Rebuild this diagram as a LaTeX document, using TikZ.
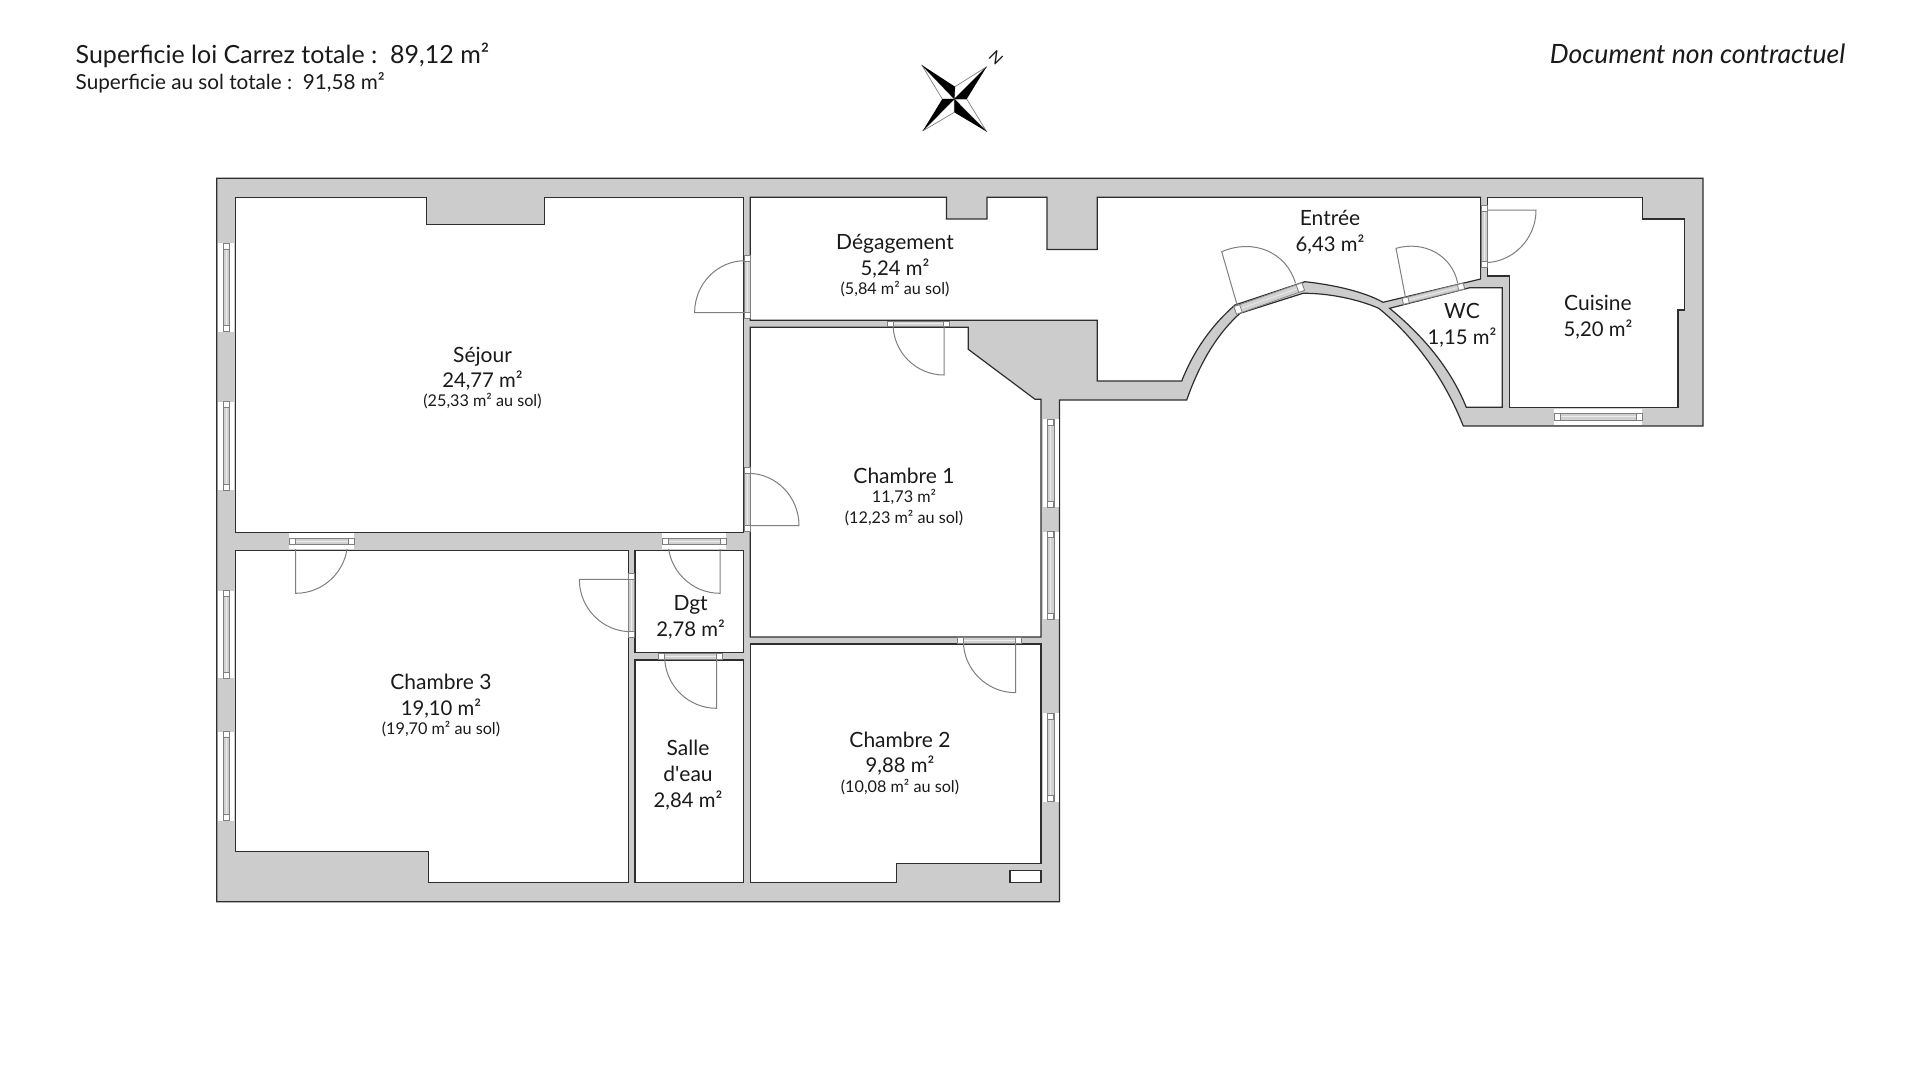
\documentclass[tikz,border=0pt]{standalone}
\usepackage{fontspec}
\setmainfont{Lato}
\usetikzlibrary{calc}
\definecolor{wallgray}{HTML}{CCCCCC}
\definecolor{wallline}{HTML}{2E2E2E}
\definecolor{doorgray}{HTML}{7F7F7F}
\definecolor{inkblack}{HTML}{1A1A1A}
\tikzset{
  wall/.style={fill=wallgray,draw=wallline,line width=1.2pt,line join=miter},
  roomarea/.style={fill=white,draw=wallline,line width=1.2pt,line join=miter},
  doorline/.style={draw=doorgray,line width=1pt},
  winbar/.style={fill=wallgray!90,draw=doorgray,line width=.7pt},
  winsq/.style={fill=white,draw=doorgray,line width=.8pt},
  roomlabel/.style={align=center,inner sep=0pt,text=inkblack,font=\fontsize{21}{25.7}\selectfont},
  headtext/.style={inner sep=0pt,text=inkblack},
  star/.style={fill=black},
  starw/.style={fill=white,draw=doorgray,line width=.7pt,line join=round}
}
\newcommand\doorleaf[6]{%
  \pgfmathsetmacro\cax{#3+0.5523*(#5-#1)}%
  \pgfmathsetmacro\cay{#4+0.5523*(#6-#2)}%
  \pgfmathsetmacro\cbx{#5+0.5523*(#3-#1)}%
  \pgfmathsetmacro\cby{#6+0.5523*(#4-#2)}%
  \draw[doorline] (#1,#2)--(#3,#4) .. controls (\cax,\cay) and (\cbx,\cby) .. (#5,#6);}
% centre x, centre y, length, angle, white gap width, bar width
\newcommand\winb[6]{%
  \begin{scope}[shift={(#1,#2)},rotate=#4]
    \pgfmathsetmacro\hl{#3/2}\pgfmathsetmacro\hg{#5/2}\pgfmathsetmacro\hb{#6/2}%
    \fill[white] (-\hl,-\hg) rectangle (\hl,\hg);
    \draw[winbar] (-\hl,-\hb) rectangle (\hl,\hb);
    \draw[wallgray!35,line width=.7pt] (-\hl,0) -- (\hl,0);
    \draw[winsq] (-\hl,-\hb) rectangle ++(6,{2*\hb});
    \draw[winsq] (\hl,-\hb) rectangle ++(-6,{2*\hb});
  \end{scope}}
\newcommand\smalltxt{\fontsize{16.2}{16.2}\selectfont}
\newcommand\areatxt{\fontsize{20.3}{25.7}\selectfont}
\begin{document}
\begin{tikzpicture}[x=1pt,y=-1pt]
\useasboundingbox (0,0) rectangle (1920,1080);
\fill[white] (0,0) rectangle (1920,1080);
% outer walls
\path[wall] (216.7,178.3) -- (1703,178.3) -- (1703,426) -- (1463.3,426)
  .. controls (1443,375) and (1412,335) .. (1378.7,308.3)
  .. controls (1360,300) and (1330,293) .. (1303,293.3)
  -- (1240,313.3)
  .. controls (1218,333) and (1200,362) .. (1186.7,400)
  -- (1059.5,400) -- (1059.5,901.7) -- (216.7,901.7) -- cycle;
% rooms
\path[roomarea] (235.7,197.3) -- (426.8,197.3) -- (426.8,224.7) -- (544.6,224.7) -- (544.6,197.3) -- (743.6,197.3) -- (743.6,532.3) -- (235.7,532.3) -- cycle;
\path[roomarea] (235.7,550.3) -- (628.3,550.3) -- (628.3,882.3) -- (428.7,882.3) -- (428.7,851.7) -- (235.7,851.7) -- cycle;
\path[roomarea] (635,550.3) rectangle (743.7,652.7);
\path[roomarea] (635,660) rectangle (743.7,882.3);
\path[roomarea] (750.3,327.3) -- (968.3,327.3) -- (968.3,349.3) -- (1035,399.3) -- (1041,399.3) -- (1041,637) -- (750.3,637) -- cycle;
\path[roomarea] (750.3,644) -- (1041,644) -- (1041,863.3) -- (896.7,863.3) -- (896.7,882.3) -- (750.3,882.3) -- cycle;
\path[roomarea] (1010,870.7) rectangle (1041,882.3);
\path[roomarea] (750.3,197.3) -- (946.5,197.3) -- (946.5,219) -- (987,219) -- (987,197.3) -- (1047,197.3) -- (1047,249.5) -- (1097.3,249.5) -- (1097.3,197.3) -- (1480.6,197.3) -- (1480.6,279) -- (1383,302.3)
  .. controls (1365,292) and (1335,285) .. (1305,281.7)
  -- (1235,305)
  .. controls (1212,325) and (1194,350) .. (1181.7,381)
  -- (1097.3,381) -- (1097.3,320.3) -- (750.3,320.3) -- cycle;
\path[roomarea] (1389.6,308.3) -- (1469.8,287.7) -- (1502.3,287.7) -- (1502.3,407.3) -- (1466.3,407.3)
  .. controls (1450,367) and (1422,335) .. (1389.6,308.3) -- cycle;
\path[roomarea] (1487.6,197.3) -- (1642.4,197.3) -- (1642.4,219) -- (1684.5,219) -- (1684.5,310) -- (1678,310) -- (1678,407.3) -- (1509.7,407.3) -- (1509.7,276) -- (1487.6,276) -- cycle;
% doors
\doorleaf{745}{312.7}{694.6}{312.7}{745}{260.7}
\doorleaf{748}{525.7}{799}{525.7}{748}{473.3}
\doorleaf{295.7}{541}{295.7}{593.3}{347.7}{541}
\doorleaf{720}{541}{720}{593.3}{668}{541}
\doorleaf{631}{579.3}{579.3}{579.3}{631}{631.7}
\doorleaf{716.7}{656.5}{716.7}{708.3}{664.7}{656.5}
\doorleaf{1015.7}{640.5}{1015.7}{692.7}{963.3}{640.5}
\doorleaf{944}{323.7}{944}{375}{893}{323.7}
\doorleaf{1484}{210}{1536}{210}{1484}{262.7}
\doorleaf{1238}{308}{1221.7}{251.7}{1295.5}{283.3}
\doorleaf{1405.6}{298}{1396}{248.3}{1457.7}{283.3}
% windows
\winb{226.2}{287.5}{88.4}{90}{16}{6.5}
\winb{226.2}{445.9}{88.4}{90}{16}{6.5}
\winb{226.2}{634.5}{87.6}{90}{16}{6.5}
\winb{226.2}{776.2}{89}{90}{16}{6.5}
\winb{1050.6}{463.2}{88.3}{90}{16}{6.5}
\winb{1050.6}{575.5}{87.6}{90}{16}{6.5}
\winb{1050.6}{757.5}{88.4}{90}{16}{6.5}
\winb{1598}{416.7}{88}{0}{16}{6.5}
\winb{321.7}{541.3}{64.7}{0}{16}{6.5}
\winb{694}{541.3}{64.2}{0}{16}{6.5}
\winb{747}{286.8}{63}{90}{5}{6}
\winb{747}{499.7}{64}{90}{5}{6}
\winb{631.7}{605.3}{64}{90}{5}{6}
\winb{690.5}{656.3}{63.6}{0}{5}{6}
\winb{989.5}{640.5}{64.4}{0}{5}{6}
\winb{918.6}{323.8}{62}{0}{5}{5.5}
\winb{1484.1}{236.3}{62.7}{90}{5}{6}
\winb{1269.2}{298.5}{72}{19.3}{8}{8}
\winb{1433.3}{293.7}{63}{14}{5}{6}
% compass
\coordinate (cc) at (954.3,99);
\coordinate (tnw) at (921.7,65); \coordinate (tne) at (986.7,66.7);
\coordinate (tse) at (986.7,131.7); \coordinate (tsw) at (922.7,131);
\coordinate (it) at (955,86.7); \coordinate (ir) at (966.7,99);
\coordinate (ib) at (954.3,112.3); \coordinate (il) at (942.3,99);
\path[starw] (tnw) -- (il) -- (cc) -- cycle;
\path[starw] (tne) -- (it) -- (cc) -- cycle;
\path[starw] (tse) -- (ir) -- (cc) -- cycle;
\path[starw] (tsw) -- (ib) -- (cc) -- cycle;
\path[star] (tnw) -- (it) -- (cc) -- cycle;
\path[star] (tne) -- (ir) -- (cc) -- cycle;
\path[star] (tse) -- (ib) -- (cc) -- cycle;
\path[star] (tsw) -- (il) -- (cc) -- cycle;
\node[headtext,rotate=-45,font=\fontsize{16}{16}\selectfont] (northmark) at (996,58) {N};
% header
\node[headtext,anchor=base west,font=\fontsize{25}{25}\selectfont] (carrez) at (75.5,63) {Superficie loi Carrez totale :\ \ 89,12 m²};
\node[headtext,anchor=base west,font=\fontsize{20.7}{20.7}\selectfont] (sol) at (75.5,89.3) {Superficie au sol totale :\ \ 91,58 m²};
\node[headtext,anchor=base east,font=\itshape\fontsize{26.6}{26.6}\selectfont] (contrat) at (1845.5,63) {Document non contractuel};
% room labels
\node[roomlabel] (sejour) at (482.5,378) {Séjour\\\areatxt 24,77 m²\\[-6.5pt]\smalltxt (25,33 m² au sol)};
\node[roomlabel] (ch3) at (441,705.5) {Chambre 3\\\areatxt 19,10 m²\\[-6.5pt]\smalltxt (19,70 m² au sol)};
\node[roomlabel] (ch1) at (904,497) {Chambre 1\\[-7pt]\smalltxt 11,73 m²\\[-4.3pt]\smalltxt (12,23 m² au sol)};
\node[roomlabel] (ch2) at (900,763) {Chambre 2\\\areatxt 9,88 m²\\[-6.5pt]\smalltxt (10,08 m² au sol)};
\node[roomlabel] (sde) at (688,775) {Salle\\d\textquotesingle eau\\\areatxt 2,84 m²};
\node[roomlabel] (dgt) at (690.6,617.5) {Dgt\\\areatxt 2,78 m²};
\node[roomlabel] (deg) at (895,266) {Dégagement\\\areatxt 5,24 m²\\[-6.5pt]\smalltxt (5,84 m² au sol)};
\node[roomlabel] (entree) at (1330,232.5) {Entrée\\\areatxt 6,43 m²};
\node[roomlabel] (wc) at (1462,325.5) {WC\\\areatxt 1,15 m²};
\node[roomlabel] (cuisine) at (1598,317.5) {Cuisine\\\areatxt 5,20 m²};
\end{tikzpicture}
\end{document}
